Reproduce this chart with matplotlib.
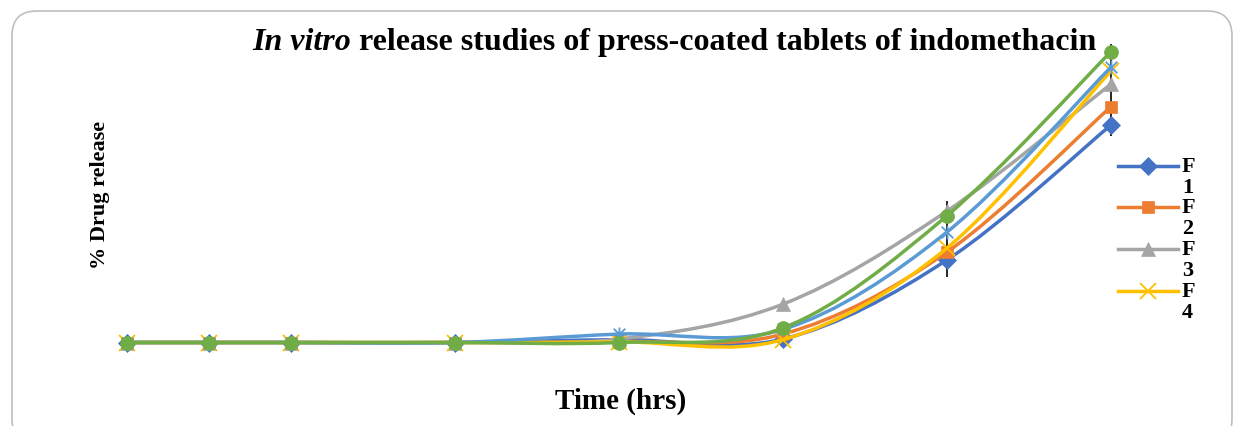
import numpy as np
import matplotlib
matplotlib.use("Agg")
import matplotlib.pyplot as plt
from matplotlib.path import Path
from matplotlib.patches import PathPatch, FancyBboxPatch
from matplotlib.lines import Line2D

# data (% drug release vs time in hours)
time_hrs = [0, 0.5, 1, 2, 3, 4, 5, 6]
f1 = [0, 0, 0, 0, 1.0, 1.2, 28.4, 74.8]
f2 = [0, 0, 0, 0, 0.3, 2.9, 31.1, 81.1]
f3 = [0, 0, 0, 0, 1.2, 13.2, 45.2, 88.9]
f4 = [0, 0, 0, 0, 0.2, 1.0, 32.5, 93.4]
f5 = [0, 0, 0, 0, 2.9, 4.5, 38.0, 94.7]
f6 = [0, 0, 0, 0, 0.0, 5.0, 43.6, 100.0]
series_names = ["F1", "F2", "F3", "F4", "F5", "F6"]
series_values = [f1, f2, f3, f4, f5, f6]

# the error bars at the two last points
err_time = [5, 6]
err_mid = [35.6, 86.8]
err_half = [13.1, 15.8]

W, H = 1238, 427
SERIF = "Liberation Serif"

# excel "star" marker: an x with a vertical stroke
star = Path([(-1, -1), (1, 1), (-1, 1), (1, -1), (0, -1.2), (0, 1.2)],
            [Path.MOVETO, Path.LINETO, Path.MOVETO, Path.LINETO, Path.MOVETO, Path.LINETO])

styles = [
    dict(color="#4472C4", marker="D", ms=9),
    dict(color="#ED7D31", marker="s", ms=9),
    dict(color="#A5A5A5", marker="^", ms=10),
    dict(color="#FFC000", marker="x", ms=11),
    dict(color="#5B9BD5", marker=star, ms=10),
    dict(color="#70AD47", marker="o", ms=10),
]


def smooth_path(xs, ys):
    # excel-like smoothed line: cubic bezier through every point
    pts = np.column_stack([xs, ys]).astype(float)
    n = len(pts)
    verts = [pts[0]]
    codes = [Path.MOVETO]
    for i in range(n - 1):
        p0 = pts[max(i - 1, 0)]
        p1 = pts[i]
        p2 = pts[i + 1]
        p3 = pts[min(i + 2, n - 1)]
        verts += [p1 + (p2 - p0) / 6, p2 - (p3 - p1) / 6, p2]
        codes += [Path.CURVE4] * 3
    return Path(verts, codes)


def fx(px):
    return px / W


def fy(py):
    return 1 - py / H


def marker_width(m):
    return 1.3 if (isinstance(m, str) and m == "x") or m is star else 0.5


fig = plt.figure(figsize=(W / 100, H / 100), dpi=100)
fig.patch.set_facecolor("white")

# rounded frame of the chart area
frame = FancyBboxPatch((fx(12), fy(445)), fx(1232) - fx(12), fy(12) - fy(445),
                       boxstyle="round,pad=0,rounding_size=0.02",
                       transform=fig.transFigure, facecolor="none",
                       edgecolor="#BFBFBF", lw=1.2, mutation_aspect=W / H)
fig.add_artist(frame)

# axes placed so that 0 h sits at x=127 px and 0 % at y=343.5 px
left, right, top, bottom = 100, 1130, 40, 370
ax = fig.add_axes([fx(left), fy(bottom), fx(right) - fx(left), fy(top) - fy(bottom)])
ax.set_xlim((left - 127) / 164, (right - 127) / 164)
ax.set_ylim((343.5 - bottom) / 2.908, (343.5 - top) / 2.908)
ax.patch.set_alpha(0)
for s in ax.spines.values():
    s.set_visible(False)
ax.set_xticks([])
ax.set_yticks([])

ax.errorbar(err_time, err_mid, yerr=err_half, fmt="none", ecolor="#262626",
            elinewidth=1.4, capsize=0, zorder=1)

for k, (name, vals) in enumerate(zip(series_names, series_values)):
    st = styles[k]
    ax.add_patch(PathPatch(smooth_path(time_hrs, vals), facecolor="none",
                           edgecolor=st["color"], lw=2.5, zorder=2 + k,
                           capstyle="round", joinstyle="round"))
    ax.plot(time_hrs, vals, linestyle="none", marker=st["marker"], ms=st["ms"],
            color=st["color"], mec=st["color"], mew=marker_width(st["marker"]),
            zorder=2 + k, label=name)

# title: italic "In vitro" followed by the bold rest, centred on x=674 px
title_size = 23
t1 = fig.text(0, fy(50), "In vitro", fontfamily=SERIF, fontsize=title_size,
              fontweight="bold", fontstyle="italic", ha="left", va="baseline")
t2 = fig.text(0, fy(50), "release studies of press-coated tablets of indomethacin",
              fontfamily=SERIF, fontsize=title_size, fontweight="bold",
              ha="left", va="baseline")
fig.canvas.draw()
w1 = t1.get_window_extent().width
w2 = t2.get_window_extent().width
gap = 8
x0 = 674 - (w1 + gap + w2) / 2
t1.set_x(fx(x0))
t2.set_x(fx(x0 + w1 + gap))

fig.text(fx(621), fy(401), "Time (hrs)", fontfamily=SERIF, fontsize=21,
         fontweight="bold", ha="center", va="center")
fig.text(fx(100), fy(195), "% Drug release", fontfamily=SERIF, fontsize=16,
         fontweight="bold", rotation=90, ha="center", va="center")

# legend (only the first four entries fit in the original)
for i in range(4):
    st = styles[i]
    y = 166.7 + 41.7 * i
    fig.add_artist(Line2D([fx(1118), fx(1178)], [fy(y), fy(y)], color=st["color"],
                          lw=2.5, transform=fig.transFigure))
    fig.add_artist(Line2D([fx(1148)], [fy(y)], marker=st["marker"], ms=st["ms"],
                          color=st["color"], mec=st["color"],
                          mew=marker_width(st["marker"]),
                          transform=fig.transFigure))
    fig.text(fx(1182), fy(y), series_names[i][0], fontfamily=SERIF, fontsize=16,
             fontweight="bold", ha="left", va="center")
    fig.text(fx(1182), fy(y + 21), series_names[i][1], fontfamily=SERIF, fontsize=16,
             fontweight="bold", ha="left", va="center")

fig.savefig("out.png", dpi=100)
